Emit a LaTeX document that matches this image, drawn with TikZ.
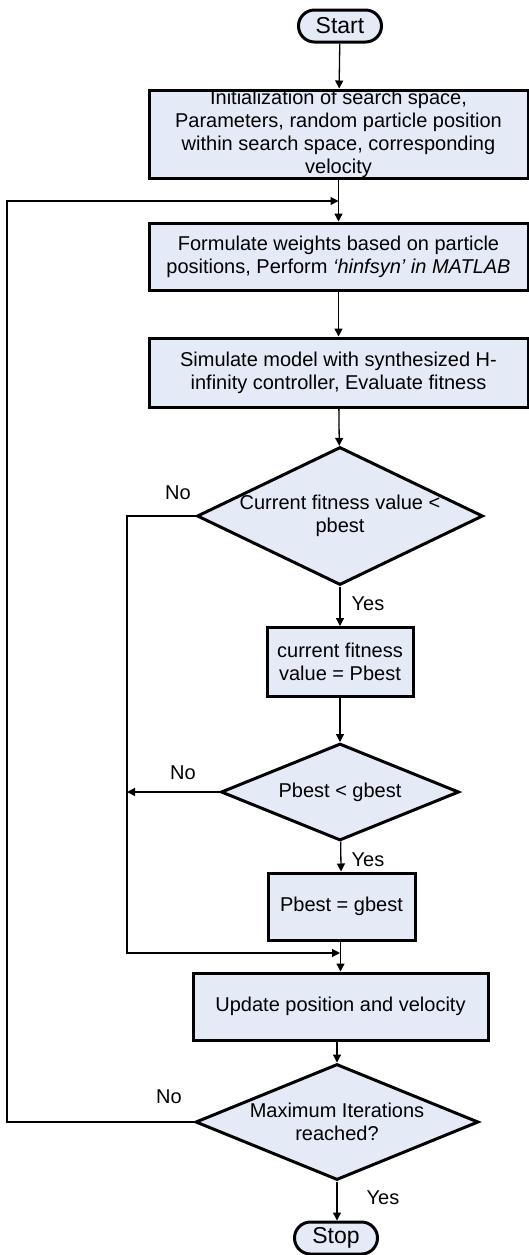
\documentclass[tikz,border=0pt]{standalone}
\usepackage{fontspec}
\setmainfont{Liberation Sans}
\usepackage{tikz}
\usetikzlibrary{arrows.meta}
\usetikzlibrary{shapes.geometric}
\usetikzlibrary{shapes.misc}
\definecolor{boxfill}{RGB}{228,234,246}
\tikzset{
	proc/.style={draw,line width=1.5pt,fill=boxfill,inner sep=0pt,align=center},
	term/.style={draw,line width=1.5pt,fill=boxfill,rounded rectangle,inner sep=0pt,minimum width=41.5pt,minimum height=16pt,font=\fontsize{11.5}{13}\selectfont},
	dec/.style={draw,line width=1.5pt,fill=boxfill,diamond,inner sep=0pt},
	flow/.style={line width=0.65pt,-{Triangle[length=4pt,width=4pt]}},
	lbl/.style={inner sep=0pt}
}

\begin{document}
\begin{tikzpicture}[x=0.5pt,y=-0.5pt,font=\fontsize{10}{11.5}\selectfont]
	\useasboundingbox (0,0) rectangle (529,1255);
	\node[term] (start) at (340,26) {Start};
	\node[proc,minimum width=189.5pt,minimum height=44pt] (init) at (338.5,134) {Initialization of search space,\\Parameters, random particle position\\within search space, corresponding\\velocity};
	\node[proc,minimum width=189.5pt,minimum height=33.5pt] (form) at (338.5,256.5) {Formulate weights based on particle\\positions, Perform \textit{‘hinfsyn’ in MATLAB}};
	\node[proc,minimum width=189.5pt,minimum height=34.5pt] (sim) at (338.5,372.5) {Simulate model with synthesized H-\\infinity controller, Evaluate fitness};
	\node[dec,minimum width=143pt,minimum height=69pt] (d1) at (340,516) {};
	\node[align=center] (d1t) at (d1) {Current fitness value <\\pbest};
	\node[proc,minimum width=73pt,minimum height=34.5pt] (cur) at (340,662) {current fitness\\value = Pbest};
	\node[dec,minimum width=119pt,minimum height=48.5pt] (d2) at (340,792) {};
	\node (d2t) at (d2) {Pbest < gbest};
	\node[proc,minimum width=73.5pt,minimum height=33.5pt] (pg) at (341.5,906.5) {Pbest = gbest};
	\node[proc,minimum width=147.5pt,minimum height=33.5pt] (upd) at (340.5,1006.5) {Update position and velocity};
	\node[dec,minimum width=141.5pt,minimum height=58pt] (d3) at (337,1122) {};
	\node[align=center] (d3t) at (d3) {Maximum Iterations\\reached?};
	\node[term] (stop) at (336,1238) {Stop};

	\node[lbl] (no1) at (178,493) {No};
	\node[lbl] (yes1) at (368,604) {Yes};
	\node[lbl] (no2) at (183,773) {No};
	\node[lbl] (yes2) at (368,860) {Yes};
	\node[lbl] (no3) at (169,1097) {No};
	\node[lbl] (yes3) at (383,1198) {Yes};

	\coordinate (j1) at (338.5,201); \coordinate (lp) at (7,201);
	\coordinate (j2) at (340,953); \coordinate (lc) at (127,953);

	\draw[flow] (start) -- (init);
	\draw[flow] (init) -- (form);
	\draw[flow] (form) -- (sim);
	\draw[flow] (sim) -- (d1);
	\draw[flow] (d1) -- (cur);
	\draw[flow] (cur) -- (d2);
	\draw[flow] (d2) -- (pg);
	\draw[flow] (pg.south -| upd) -- (upd);
	\draw[flow] (d3.north |- upd.south) -- (d3.north);
	\draw[flow] (d3.south) -- (d3.south |- stop.north);

	\draw[flow] (d1.west) -| (lc) -- (j2);
	\draw[flow] (d2.west) -- (d2.west -| lc);
	\draw[flow] (d3.west) -| (lp) -- (j1);
\end{tikzpicture}
\end{document}
